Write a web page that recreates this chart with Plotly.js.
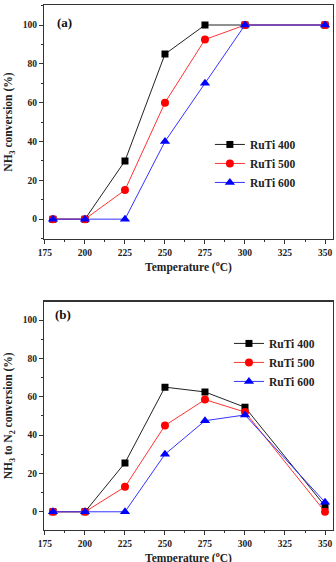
<!DOCTYPE html>
<html>
<head>
<meta charset="utf-8">
<script src="https://cdn.plot.ly/plotly-3.0.1.min.js"></script>
<style>
  html, body { margin: 0; padding: 0; background: #fff; overflow: hidden; }
  #chart { width: 336px; height: 574px; }
</style>
</head>
<body>
<div id="chart"></div>
<script>
// Reaction temperatures (°C)
const temperature = [180, 200, 225, 250, 275, 300, 350];

// (a) NH3 conversion (%)
const conv_ruti400 = [0, 0, 30, 85, 100, 100, 100];
const conv_ruti500 = [0, 0, 15, 60, 92.5, 100, 100];
const conv_ruti600 = [0, 0, 0, 40, 70, 100, 100];

// (b) NH3 to N2 conversion (%)
const n2_ruti400 = [0, 0, 25.5, 65, 62.5, 54.5, 3];
const n2_ruti500 = [0, 0, 13, 45, 58.5, 52, 0];
const n2_ruti600 = [0, 0, 0, 30, 47.5, 50.5, 5];

const seriesNames = ['RuTi 400', 'RuTi 500', 'RuTi 600'];
const xTickVals = [175, 200, 225, 250, 275, 300, 325, 350];
const yTickVals = [0, 20, 40, 60, 80, 100];

const serif = 'Liberation Serif, Times New Roman, serif';
const styles = [
  { color: '#000000', line: '#222222', symbol: 'square', size: 7 },
  { color: '#ff0000', line: '#ff3333', symbol: 'circle', size: 8 },
  { color: '#0000ff', line: '#3333ff', symbol: 'triangle-up', size: 9 }
];

function makeTraces(seriesList, xa, ya, legendId) {
  return seriesList.map((ys, i) => ({
    x: temperature,
    y: ys,
    name: seriesNames[i],
    type: 'scatter',
    mode: 'lines+markers',
    xaxis: xa,
    yaxis: ya,
    legend: legendId,
    line: { color: styles[i].line, width: 1 },
    marker: { color: styles[i].color, symbol: styles[i].symbol, size: styles[i].size }
  }));
}

const data = [
  ...makeTraces([conv_ruti400, conv_ruti500, conv_ruti600], 'x', 'y', 'legend'),
  ...makeTraces([n2_ruti400, n2_ruti500, n2_ruti600], 'x2', 'y2', 'legend2')
];

const tickFont = { family: serif, size: 9.5, color: '#222', weight: 700 };
const titleFont = { family: serif, size: 11.5, color: '#222', weight: 700 };

function xAxis(anchor) {
  return {
    anchor: anchor,
    domain: [0, 1],
    range: [174.4, 355],
    tickvals: xTickVals,
    ticks: 'outside', ticklen: 4, tickwidth: 1, tickcolor: '#333',
    minor: { dtick: 12.5, tick0: 175, ticks: 'outside', ticklen: 2, tickcolor: '#333' },
    showline: true, mirror: true, linecolor: '#333', linewidth: 1.2,
    showgrid: false, zeroline: false,
    tickfont: tickFont,
    automargin: false,
    title: { text: 'Temperature (<sup>o</sup>C)', font: titleFont, standoff: 6 }
  };
}

function yAxis(anchor, domain, range, title) {
  return {
    anchor: anchor,
    domain: domain,
    range: range,
    tickvals: yTickVals,
    ticks: 'outside', ticklen: 4, tickwidth: 1, tickcolor: '#333',
    minor: { dtick: 10, tick0: 0, ticks: 'outside', ticklen: 2, tickcolor: '#333' },
    showline: true, mirror: true, linecolor: '#333', linewidth: 1.2,
    showgrid: false, zeroline: false,
    tickfont: tickFont,
    automargin: false,
    title: { text: title, font: titleFont, standoff: 7 }
  };
}

const legendBase = {
  font: { family: serif, size: 11.5, color: '#222', weight: 700 },
  bgcolor: 'rgba(0,0,0,0)',
  borderwidth: 0,
  xanchor: 'left',
  yanchor: 'top'
};

// The figure is a little taller than the window, so the lower axis title runs off the bottom edge.
const layout = {
  width: 336,
  height: 574,
  margin: { l: 44, r: 3, t: 5, b: 44 },
  paper_bgcolor: '#ffffff',
  plot_bgcolor: '#ffffff',
  showlegend: true,
  xaxis: xAxis('y'),
  yaxis: yAxis('x', [0.554, 1], [-10.3, 110.3], 'NH<sub>3</sub> conversion (%)'),
  xaxis2: xAxis('y2'),
  yaxis2: yAxis('x2', [0, 0.435], [-9.5, 109.6], 'NH<sub>3</sub> to N<sub>2</sub> conversion (%)'),
  legend: Object.assign({}, legendBase, { x: 0.574, y: 0.762 }),
  legend2: Object.assign({}, legendBase, { x: 0.64, y: 0.383 }),
  annotations: [
    { text: '(a)', xref: 'paper', yref: 'paper', x: 0.038, y: 0.966, xanchor: 'left', yanchor: 'middle',
      showarrow: false, font: { family: serif, size: 13, color: '#111', weight: 700 } },
    { text: '(b)', xref: 'paper', yref: 'paper', x: 0.031, y: 0.411, xanchor: 'left', yanchor: 'middle',
      showarrow: false, font: { family: serif, size: 13, color: '#111', weight: 700 } }
  ]
};

Plotly.newPlot('chart', data, layout, { displayModeBar: false, staticPlot: true });
</script>
</body>
</html>
